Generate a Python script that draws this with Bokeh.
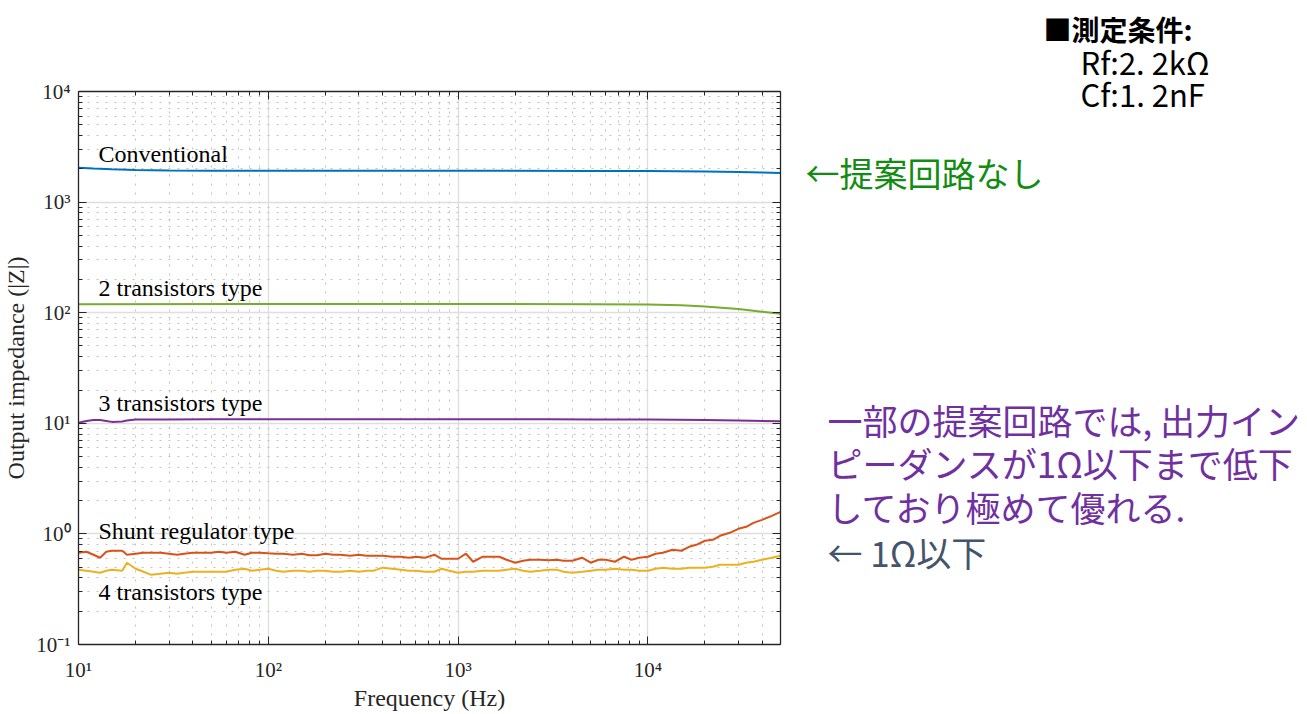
import math
from bokeh.plotting import figure
from bokeh.layouts import row, column
from bokeh.models import FixedTicker, LogAxis, CustomJSTickFormatter, Label, Range1d
from bokeh.embed import file_html
from bokeh.resources import INLINE

# ---------------- data ----------------
freq = [10, 11, 12, 13, 14, 15, 17, 18, 20, 22, 24, 27, 30, 33, 36, 40, 45, 50, 55, 60, 67, 75, 82, 90,
        100, 110, 120, 135, 150, 165, 180, 200, 220, 240, 270, 300, 330, 360, 400, 450, 500, 550, 600,
        670, 750, 820, 900, 1000, 1100, 1200, 1350, 1500, 1650, 1800, 2000, 2200, 2400, 2700, 3000,
        3300, 3600, 4000, 4500, 5000, 5500, 6000, 6700, 7500, 8200, 9000, 10000, 11000, 12000, 13500,
        15000, 16500, 18000, 20000, 22000, 24000, 27000, 30000, 33000, 36000, 40000, 45000, 50000]

shunt_z = [0.675, 0.690, 0.648, 0.609, 0.690, 0.704, 0.704, 0.648, 0.662, 0.675, 0.675, 0.675, 0.662,
           0.648, 0.662, 0.675, 0.675, 0.675, 0.690, 0.675, 0.690, 0.648, 0.675, 0.675,
           0.668, 0.662, 0.662, 0.648, 0.662, 0.641, 0.641, 0.662, 0.648, 0.648, 0.635, 0.648, 0.635,
           0.635, 0.635, 0.622, 0.622, 0.609, 0.622, 0.609, 0.648, 0.596, 0.596, 0.596, 0.662, 0.560,
           0.622, 0.622, 0.622, 0.584, 0.549, 0.572, 0.584, 0.584, 0.578, 0.584, 0.572, 0.572, 0.609,
           0.549, 0.584, 0.584, 0.560, 0.622, 0.584, 0.609, 0.622, 0.662, 0.675, 0.719, 0.704, 0.765,
           0.797, 0.867, 0.885, 0.961, 1.023, 1.112, 1.159, 1.259, 1.340, 1.457, 1.582]

four_t_z = [0.475, 0.465, 0.455, 0.446, 0.465, 0.475, 0.465, 0.549, 0.484, 0.455, 0.428, 0.437, 0.446,
            0.437, 0.446, 0.455, 0.455, 0.455, 0.455, 0.455, 0.475, 0.484, 0.465, 0.475,
            0.484, 0.465, 0.455, 0.465, 0.465, 0.455, 0.465, 0.465, 0.455, 0.455, 0.465, 0.455, 0.465,
            0.465, 0.495, 0.484, 0.475, 0.465, 0.465, 0.455, 0.455, 0.484, 0.465, 0.446, 0.455, 0.455,
            0.465, 0.465, 0.465, 0.475, 0.484, 0.465, 0.455, 0.465, 0.475, 0.475, 0.455, 0.446, 0.455,
            0.465, 0.475, 0.475, 0.484, 0.475, 0.475, 0.465, 0.465, 0.484, 0.495, 0.484, 0.484, 0.495,
            0.495, 0.495, 0.505, 0.526, 0.526, 0.526, 0.549, 0.560, 0.584, 0.609, 0.635]

conv_f = [10, 12, 15, 20, 30, 50, 100, 1000, 5000, 10000, 20000, 30000, 40000, 50000]
conv_z = [2040, 2010, 1980, 1955, 1935, 1925, 1920, 1920, 1915, 1910, 1895, 1870, 1850, 1830]

two_f = [10, 100, 1000, 5000, 10000, 15000, 20000, 30000, 40000, 50000]
two_z = [119, 120, 120, 119.5, 118.5, 116.5, 114, 108, 102, 98]

three_f = [10, 11, 12, 13, 14, 15, 17, 18, 20, 30, 50, 100, 300, 1000, 3000, 5000, 10000, 20000, 30000, 50000]
three_z = [10.1, 10.5, 10.7, 10.7, 10.5, 10.3, 10.4, 10.6, 10.8, 10.85, 10.9, 10.9, 10.9, 10.9, 10.9,
           10.85, 10.8, 10.7, 10.6, 10.45]

series_names = ["Conventional", "2 transistors type", "3 transistors type",
                "Shunt regulator type", "4 transistors type"]

x_major = [10, 100, 1000, 10000]
x_minor = [m * 10 ** k for k in range(1, 5) for m in range(2, 10) if m * 10 ** k <= 50000]
y_major = [0.1, 1, 10, 100, 1000, 10000]
y_minor = [m * 10.0 ** k for k in range(-1, 4) for m in range(2, 10)]

# ---------------- layout ----------------
W1, W2, H = 800, 500, 713
FL, FR, FT, FB = 78, 780, 91, 645
X0, X1, Y0, Y1 = 10, 50000, 0.1, 10000

def dx(px):
    return 10 ** (math.log10(X0) + (px - FL) / (FR - FL) * (math.log10(X1) - math.log10(X0)))

def dy(py):
    return 10 ** (math.log10(Y1) - (py - FT) / (FB - FT) * (math.log10(Y1) - math.log10(Y0)))

p = figure(width=W1, height=H,
           x_axis_type="log", y_axis_type="log",
           x_range=Range1d(X0, X1), y_range=Range1d(Y0, Y1),
           output_backend="svg", toolbar_location=None,
           min_border_left=FL, min_border_right=W1 - FR, min_border_top=FT, min_border_bottom=H - FB)
p.outline_line_color = None
p.background_fill_color = "white"

fmt_code = """
const sup = {'0':'\u2070','1':'\u00b9','2':'\u00b2','3':'\u00b3','4':'\u2074','5':'\u2075',
             '6':'\u2076','7':'\u2077','8':'\u2078','9':'\u2079','-':'\u207b'};
const e = Math.round(Math.log10(tick));
return '10' + String(e).split('').map(c => sup[c]).join('');
"""

xt = FixedTicker(ticks=x_major, minor_ticks=x_minor)
yt = FixedTicker(ticks=y_major, minor_ticks=y_minor)

AX = "#262626"
def style_axis(ax, labels=True):
    ax.axis_line_color = AX
    ax.axis_line_width = 1.3
    ax.major_tick_line_color = AX
    ax.minor_tick_line_color = AX
    ax.major_tick_in = 8
    ax.major_tick_out = 0
    ax.minor_tick_in = 4
    ax.minor_tick_out = 0
    if labels:
        ax.formatter = CustomJSTickFormatter(code=fmt_code)
        ax.major_label_text_font = "Liberation Serif"
        ax.major_label_text_font_size = "21px"
        ax.major_label_text_color = AX
        ax.axis_label_text_font = "Liberation Serif"
        ax.axis_label_text_font_size = "24px"
        ax.axis_label_text_font_style = "normal"
        ax.axis_label_text_color = AX
    else:
        ax.formatter = CustomJSTickFormatter(code="return ' ';")
        ax.major_label_text_font_size = "2px"
        ax.major_label_text_alpha = 0
        ax.major_label_standoff = 0

p.xaxis.ticker = xt
p.yaxis.ticker = yt
for ax in p.xaxis:
    style_axis(ax)
    ax.axis_label = "Frequency (Hz)"
    ax.major_label_standoff = 13
    ax.axis_label_standoff = 0
for ax in p.yaxis:
    style_axis(ax)
    ax.axis_label = "Output impedance (|Z|)"
    ax.major_label_standoff = 8
    ax.axis_label_standoff = 4

top = LogAxis(ticker=xt)
style_axis(top, labels=False)
p.add_layout(top, "above")
right = LogAxis(ticker=yt)
style_axis(right, labels=False)
p.add_layout(right, "right")

for g, t in ((p.xgrid[0], xt), (p.ygrid[0], yt)):
    g.ticker = t
    g.grid_line_color = "#dedede"
    g.grid_line_width = 1.3
    g.minor_grid_line_color = "#c2c2c2"
    g.minor_grid_line_dash = "2 7"
    g.minor_grid_line_width = 1

# ---------------- lines ----------------
p.line(conv_f, conv_z, line_color="#0072BD", line_width=2)
p.line(two_f, two_z, line_color="#77AC30", line_width=2)
p.line(three_f, three_z, line_color="#7E2F8E", line_width=2)
p.line(freq, shunt_z, line_color="#D95319", line_width=2)
p.line(freq, four_t_z, line_color="#EDB120", line_width=2)

# series labels (screen-pixel centres converted to data coords)
label_pos = [154, 288, 403, 531, 592]
for name, py in zip(series_names, label_pos):
    p.add_layout(Label(x=dx(98), y=dy(py), text=name, text_font="Liberation Serif",
                       text_font_size="24px", text_color="black", text_baseline="middle"))

# ---------------- right-side annotations (separate text panel) ----------------
q = figure(width=W2, height=H, x_range=Range1d(0, W2), y_range=Range1d(H, 0),
           output_backend="svg", toolbar_location=None,
           x_axis_location=None, y_axis_location=None,
           min_border_left=0, min_border_right=0, min_border_top=0, min_border_bottom=0)
q.outline_line_color = None
q.xgrid.visible = False
q.ygrid.visible = False

JP = "Noto Sans CJK JP"
def note(px, py, text, size, color, style="normal"):
    q.add_layout(Label(x=px - W1, y=py, text=text, text_font=JP, text_font_size=size,
                       text_color=color, text_baseline="middle", text_font_style=style))

note(1043, 28, "■測定条件:", "28px", "black", "bold")
note(1080, 61, "Rf:2. 2kΩ", "31px", "black")
note(1080, 93, "Cf:1. 2nF", "31px", "black")
note(805, 172, "←提案回路なし", "34px", "#128C12")
purple = "#7030A0"
note(827, 419, "一部の提案回路では, 出力イン", "35px", purple)
note(827, 462, "ピーダンスが1Ω以下まで低下", "35px", purple)
note(827, 506, "しており極めて優れる.", "35px", purple)
note(827, 551, "← 1Ω以下", "35px", "#44546A")

open("out.html", "w").write(file_html(row(p, column(q)), INLINE))
